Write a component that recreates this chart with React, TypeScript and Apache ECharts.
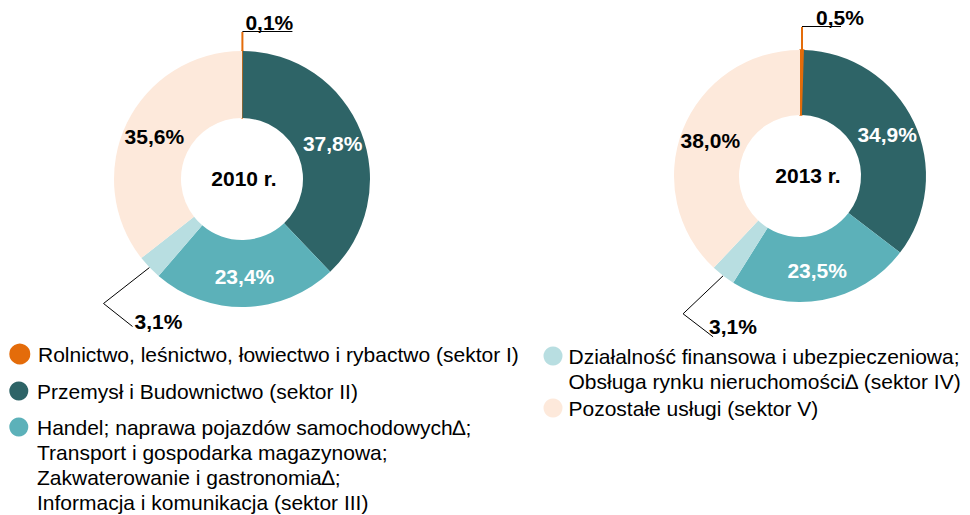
import React, { useEffect, useRef } from "react";
import * as echarts from "echarts";

const CATEGORIES = [
  "Rolnictwo, leśnictwo, łowiectwo i rybactwo (sektor I)",
  "Przemysł i Budownictwo (sektor II)",
  "Handel; naprawa pojazdów samochodowych∆;\nTransport i gospodarka magazynowa;\nZakwaterowanie i gastronomia∆;\nInformacja i komunikacja (sektor III)",
  "Działalność finansowa i ubezpieczeniowa;\nObsługa rynku nieruchomości∆ (sektor IV)",
  "Pozostałe usługi (sektor V)",
];
const YEARS = ["2010 r.", "2013 r."];
const VALUES_2010 = [0.1, 37.8, 23.4, 3.1, 35.6];
const VALUES_2013 = [0.5, 34.9, 23.5, 3.1, 38.0];
const SERIES_VALUES = [VALUES_2010, VALUES_2013];

const COLORS = ["#E46C0A", "#2E6467", "#5CB1B9", "#B8DEE1", "#FDE9DB"];
const LABEL_COLORS = ["#000", "#fff", "#fff", "#000", "#000"];
const FONT = "'Liberation Sans', Arial, sans-serif";

const CENTERS = [[242, 179], [800, 176]];
const RADII = [[61, 128], [61, 126]];
const CENTER_TEXT_POS = [[244, 178], [808, 175]];

// leader-line styling per pie
const OUT_LAYOUT = [
  { rise: 19, barW: 50, textDx: 3, elbow: [-46, 36], tail: [29, 23], labDx: 2, labDy: -5 },
  { rise: 23, barW: 39, textDx: 14, elbow: [-40, 38], tail: [30, 23], labDx: -4, labDy: -10 },
];

const fmt = (v: number) => v.toFixed(1).replace(".", ",") + "%";

function makeSeries(si: number) {
  const values = SERIES_VALUES[si];
  const cfg = OUT_LAYOUT[si];
  return {
    type: "pie",
    center: CENTERS[si],
    radius: RADII[si],
    startAngle: 90,
    clockwise: true,
    avoidLabelOverlap: false,
    silent: true,
    label: {
      show: true,
      position: "inside",
      fontFamily: FONT,
      fontSize: 21,
      fontWeight: "bold",
      formatter: (p: any) => fmt(p.value),
    },
    labelLine: { show: true, length: 10, length2: 0 },
    data: values.map((v, k) => {
      const item: any = {
        name: CATEGORIES[k],
        value: v,
        itemStyle: { color: COLORS[k] },
        label: { color: LABEL_COLORS[k] },
      };
      if (k === 0) {
        item.itemStyle = { color: COLORS[k], borderColor: COLORS[k], borderWidth: 1.5 };
        item.label = {
          position: "outside",
          formatter: (p: any) => `{t|${fmt(p.value)}}\n{u| }`,
          rich: {
            t: {
              fontFamily: FONT,
              fontSize: 21,
              fontWeight: "bold",
              color: "#000",
              lineHeight: 17,
              padding: [0, 0, 0, cfg.textDx],
            },
            u: { width: cfg.barW, height: 1, lineHeight: 1, fontSize: 1, backgroundColor: "#000" },
          },
        };
        item.labelLine = { show: true, lineStyle: { color: COLORS[0], width: 2 } };
      }
      if (k === 3) {
        item.label = { position: "outside", color: "#000" };
        item.labelLine = { show: true, lineStyle: { color: "#000", width: 1 } };
      }
      return item;
    }),
    labelLayout: (params: any) => {
      const pts = params.labelLinePoints;
      if (!pts || !pts.length) return {};
      const p0 = pts[0];
      if (params.dataIndex === 0) {
        const p1 = [p0[0], p0[1] - cfg.rise];
        return {
          x: p1[0],
          y: p1[1],
          align: "left",
          verticalAlign: "bottom",
          labelLinePoints: [p0, p1],
        };
      }
      if (params.dataIndex === 3) {
        const p1 = [p0[0] + cfg.elbow[0], p0[1] + cfg.elbow[1]];
        const p2 = [p1[0] + cfg.tail[0], p1[1] + cfg.tail[1]];
        return {
          x: p2[0] + cfg.labDx,
          y: p2[1] + cfg.labDy,
          align: "left",
          verticalAlign: "middle",
          labelLinePoints: [p0, p1, p2],
        };
      }
      return {};
    },
  };
}

// legend entries: [category index, left, icon centre y, line height, text left pad]
const LEGEND_POS = [
  [0, 9.3, 354, 24.5, 3.7],
  [1, 9.3, 391, 24.5, 3.7],
  [2, 9.3, 427, 25, 3.7],
  [3, 543.5, 356, 25.5, 1],
  [4, 543.5, 408, 24.5, 1],
];

function makeLegends() {
  return LEGEND_POS.map(([idx, left, cy, lh, pl]) => {
    const name = CATEGORIES[idx as number];
    const lines = name.split("\n").length;
    const boxH = (2 * lines - 1) * (lh as number);
    return {
      show: true,
      orient: "vertical",
      left: left,
      top: (cy as number) - boxH / 2,
      padding: 0,
      selectedMode: false,
      icon: "circle",
      itemWidth: 19,
      itemHeight: 19,
      data: [name],
      formatter: (n: string) => "\n".repeat(lines - 1) + n,
      textStyle: {
        fontFamily: FONT,
        fontSize: 21,
        color: "#000",
        lineHeight: lh,
        padding: [0, 0, 0, pl],
      },
    };
  });
}

export default function App() {
  const ref = useRef<HTMLDivElement>(null);
  useEffect(() => {
    if (!ref.current) return;
    const chart = echarts.init(ref.current, undefined, { renderer: "svg" });
    chart.setOption({
      animation: false,
      backgroundColor: "#fff",
      legend: makeLegends(),
      graphic: YEARS.map((y, i) => ({
        type: "text",
        x: CENTER_TEXT_POS[i][0],
        y: CENTER_TEXT_POS[i][1],
        silent: true,
        style: {
          text: y,
          align: "center",
          verticalAlign: "middle",
          fontFamily: FONT,
          fontSize: 21,
          fontWeight: "bold",
          fill: "#000",
        },
      })),
      series: [makeSeries(0), makeSeries(1)],
    });
    return () => chart.dispose();
  }, []);
  return (
    <div
      ref={ref}
      style={{ position: "absolute", left: 0, top: 0, width: 970, height: 515 }}
    />
  );
}
